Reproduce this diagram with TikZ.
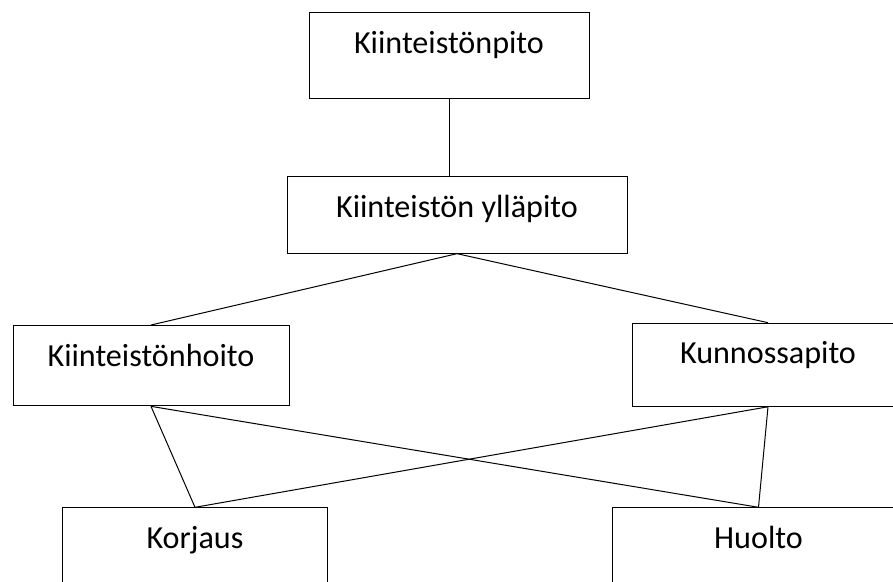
\documentclass[tikz,border=0pt]{standalone}
\usepackage{fontspec}
\setmainfont{Carlito}
\usepackage{tikz}
\usetikzlibrary{shapes,arrows}
\tikzstyle{block} =
        [
                rectangle,
                draw,
                line width = 0.75pt,
                fill = white,
                % text centered,
                anchor = north,
                inner sep = 0pt,
                font = \fontsize{24.1}{29}\selectfont,
                text height = 30.5pt
        ]
\tikzstyle{line} =
        [
                line width = 0.75pt,
                draw = black
        ]

\begin{document}
\begin{tikzpicture}[x=0.75pt, y=-0.75pt]
    \useasboundingbox (0,0) rectangle (893,582);
    \clip (0,0) rectangle (893,582);
    \node [block, minimum width = 210pt, text depth = 33.75pt] (pito) at (449,12) {Kiinteistönpito};
    \node [block, minimum width = 255pt, text depth = 27pt] (yllapito) at (457,176) {Kiinteistön ylläpito};
    \node [block, minimum width = 207pt, text depth = 29.75pt] (hoito) at (151,325) {Kiinteistönhoito};
    \node [block, minimum width = 204pt, text depth = 31.8pt] (kunnossa) at (768,322.7) {Kunnossapito};
    \node [block, minimum width = 198.75pt, text depth = 30.75pt] (korjaus) at (195,507.3) {Korjaus};
    \node [block, minimum width = 219.75pt, text depth = 30.75pt] (huolto) at (758.5,507.3) {Huolto};
     \path [line] (pito.south) -- (pito.south |- yllapito.north);
     \path [line] (yllapito.south) -- (hoito.north);
     \path [line] (yllapito.south) -- (kunnossa.north);
     \path [line] (hoito.south) -- (korjaus.north);
     \path [line] (hoito.south) -- (huolto.north);
     \path [line] (kunnossa.south) -- (korjaus.north);
     \path [line] (kunnossa.south) -- (huolto.north);
\end{tikzpicture}
\end{document}
